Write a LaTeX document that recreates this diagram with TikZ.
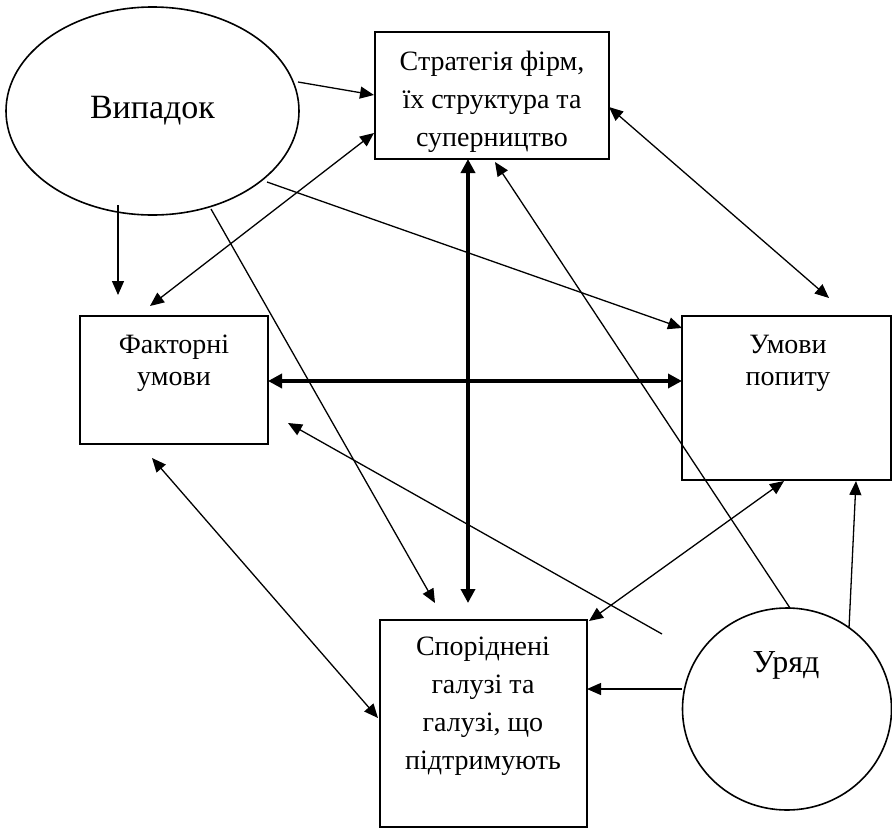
\documentclass[tikz,border=0pt]{standalone}
\usepackage{fontspec}
\setmainfont{Liberation Serif}
\usetikzlibrary{arrows.meta,shapes.geometric}
\begin{document}
\begin{tikzpicture}[x=1pt,y=-1pt,
  boxnode/.style={draw, line width=1.6pt, rectangle, inner sep=0pt},
  ellnode/.style={draw, line width=1.6pt, ellipse, inner sep=0pt},
  lbl/.style={align=center, inner sep=0pt},
  conn/.style={line width=1.3pt, -{Triangle[length=14pt,width=12pt]}},
  conn2/.style={line width=1.3pt, {Triangle[length=14pt,width=12pt]}-{Triangle[length=14pt,width=12pt]}},
  bold2/.style={line width=4pt, {Triangle[length=14pt,width=14pt]}-{Triangle[length=14pt,width=14pt]}}
]
\useasboundingbox (0,0) rectangle (892,828);

% nodes
\node[ellnode, minimum width=293pt, minimum height=208pt,
      font=\fontsize{34}{40}\selectfont] (vip) at (152.5,111) {Випадок};
\node[boxnode, minimum width=234pt, minimum height=127pt] (strat) at (492,95.5) {};
\node[lbl, font=\fontsize{28}{38}\selectfont] (strattxt) at (492,102)
  {Стратегія фірм,\\їх структура та\\суперництво};
\node[boxnode, minimum width=188pt, minimum height=128pt] (factor) at (174,380) {};
\node[lbl, font=\fontsize{28}{32}\selectfont] (factortxt) at (174,363) {Факторні\\умови};
\node[boxnode, minimum width=209pt, minimum height=164pt] (demand) at (786.5,398) {};
\node[lbl, font=\fontsize{28}{32}\selectfont] (demandtxt) at (788,363) {Умови\\попиту};
\node[boxnode, minimum width=207pt, minimum height=207pt] (related) at (483.5,723.5) {};
\node[lbl, font=\fontsize{28}{38}\selectfont] (relatedtxt) at (483,706)
  {Споріднені\\галузі та\\галузі, що\\підтримують};
\node[ellnode, minimum width=209pt, minimum height=202pt] (uryad) at (787,709) {};
\node[lbl, font=\fontsize{32}{38}\selectfont] (uryadtxt) at (786,665) {Уряд};

% connector end points
\coordinate (a1s) at (298,82);   \coordinate (a1e) at (374,95);
\coordinate (a2s) at (118,205);  \coordinate (a2e) at (118,295);
\coordinate (a3s) at (150,306);  \coordinate (a3e) at (374,133);
\coordinate (a4s) at (267,182);  \coordinate (a4e) at (682,328);
\coordinate (a5s) at (211,209);  \coordinate (a5e) at (435,603);
\coordinate (a6s) at (609,107);  \coordinate (a6e) at (829,298);
\coordinate (a7s) at (468,159);  \coordinate (a7e) at (468,603);
\coordinate (a8s) at (268,381);  \coordinate (a8e) at (682,381);
\coordinate (a9s) at (790,608);  \coordinate (a9e) at (495,162);
\coordinate (a10s) at (662,634); \coordinate (a10e) at (288,423);
\coordinate (a11s) at (682,689); \coordinate (a11e) at (587,689);
\coordinate (a12s) at (589,621); \coordinate (a12e) at (784,481);
\coordinate (a13s) at (849,628); \coordinate (a13e) at (856,481);
\coordinate (a14s) at (152,458); \coordinate (a14e) at (378,718);

% connectors
\draw[conn] (a1s) -- (a1e);
\draw[conn] (a2s) -- (a2e);
\draw[conn2] (a3s) -- (a3e);
\draw[conn] (a4s) -- (a4e);
\draw[conn] (a5s) -- (a5e);
\draw[conn2] (a6s) -- (a6e);
\draw[bold2] (a7s) -- (a7e);
\draw[bold2] (a8s) -- (a8e);
\draw[conn] (a9s) -- (a9e);
\draw[conn] (a10s) -- (a10e);
\draw[conn] (a11s) -- (a11e);
\draw[conn2] (a12s) -- (a12e);
\draw[conn] (a13s) -- (a13e);
\draw[conn2] (a14s) -- (a14e);
\end{tikzpicture}
\end{document}
